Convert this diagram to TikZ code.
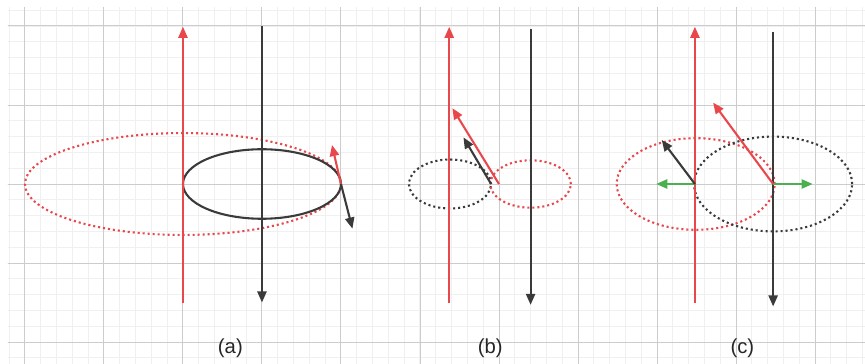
\documentclass[tikz,border=0pt]{standalone}
\usepackage{fontspec}
\setmainfont{Liberation Sans}
\usetikzlibrary{arrows.meta}
\definecolor{wred}{HTML}{E8474B}
\definecolor{wblack}{HTML}{3A3A3A}
\definecolor{wgreen}{HTML}{4CAF50}
\definecolor{gmajor}{HTML}{CCCCCC}
\definecolor{gminor}{HTML}{F0F0F0}
\tikzset{
  wire/.style={line width=0.75pt,-{Triangle[length=4pt,width=3.3pt]}},
  vec/.style={line width=0.75pt,-{Triangle[length=4pt,width=3.3pt]}},
  loop/.style={line width=0.75pt},
  dotloop/.style={line width=0.75pt,dash pattern=on 0.75pt off 1.05pt},
  lbl/.style={font=\fontsize{7.3}{8.8}\selectfont,text=black!85,inner sep=0pt}
}
\begin{document}
\begin{tikzpicture}
\useasboundingbox (-0.316,-2.266) rectangle (10.633,2.329);
\fill[white] (-0.316,-2.266) rectangle (10.633,2.329);
\begin{scope}
\clip (-0.215,-2.3) rectangle (10.7,2.228);
\draw[gminor,line width=0.35pt,step=0.2] (-0.4,-2.4) grid (10.8,2.4);
\draw[gmajor,line width=0.35pt,step=1] (-1,-3) grid (11,3);
\end{scope}

% ---------- panel (a)
\coordinate (aR0) at (2,-1.5);  \coordinate (aR1) at (2,1.99);
\coordinate (aB0) at (3,2.0);   \coordinate (aB1) at (3,-1.5);
\coordinate (aP)  at (4,0);
\coordinate (aRt) at (3.886,0.494);
\coordinate (aBt) at (4.145,-0.565);
\draw[dotloop,wred] (2,0) ellipse [x radius=2.0,y radius=0.645];
\draw[loop,wblack] (3,0) ellipse [x radius=1.0,y radius=0.44];
\draw[wire,wred] (aR0) -- (aR1);
\draw[wire,wblack] (aB0) -- (aB1);
\draw[vec,wred] (aP) -- (aRt);
\draw[vec,wblack] (aP) -- (aBt);
\node[lbl] (la) at (2.6,-2.08) {(a)};

% ---------- panel (b)
\coordinate (bR0) at (5.37,-1.5); \coordinate (bR1) at (5.37,1.99);
\coordinate (bB0) at (6.4,1.96);  \coordinate (bB1) at (6.4,-1.53);
\coordinate (bPr) at (6.0,0);     \coordinate (bRt) at (5.41,0.96);
\coordinate (bPb) at (5.9,0);     \coordinate (bBt) at (5.55,0.59);
\draw[dotloop,wblack] (5.38,0) ellipse [x radius=0.52,y radius=0.31];
\draw[dotloop,wred] (6.4,0) ellipse [x radius=0.51,y radius=0.30];
\draw[wire,wred] (bR0) -- (bR1);
\draw[wire,wblack] (bB0) -- (bB1);
\draw[vec,wred] (bPr) -- (bRt);
\draw[vec,wblack] (bPb) -- (bBt);
\node[lbl] (lb) at (5.89,-2.08) {(b)};

% ---------- panel (c)
\coordinate (cR0) at (8.48,-1.5); \coordinate (cR1) at (8.48,1.99);
\coordinate (cB0) at (9.47,1.93); \coordinate (cB1) at (9.47,-1.55);
\coordinate (cL)  at (8.48,0);    \coordinate (cRp) at (9.47,0);
\coordinate (cGl) at (7.99,0);    \coordinate (cGr) at (9.97,0);
\coordinate (cBt) at (8.06,0.557);\coordinate (cRt) at (8.71,1.03);
\draw[dotloop,wred] (8.49,0) ellipse [x radius=1.0,y radius=0.58];
\draw[dotloop,wblack] (9.47,0) ellipse [x radius=1.0,y radius=0.6];
\draw[wire,wred] (cR0) -- (cR1);
\draw[wire,wblack] (cB0) -- (cB1);
\draw[vec,wgreen] (cL) -- (cGl);
\draw[vec,wgreen] (cRp) -- (cGr);
\draw[vec,wblack] (cL) -- (cBt);
\draw[vec,wred] (cRp) -- (cRt);
\node[lbl] (lc) at (9.08,-2.08) {(c)};
\end{tikzpicture}
\end{document}
